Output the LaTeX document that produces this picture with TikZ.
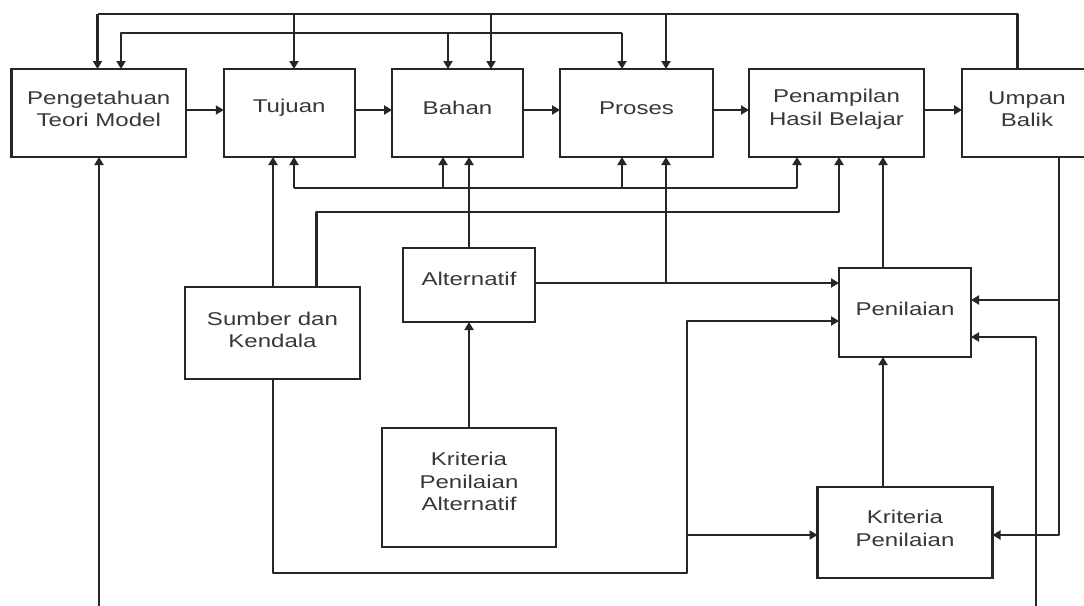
\documentclass[tikz,border=0pt]{standalone}
\usepackage{fontspec}
\usepackage{graphicx}
\setmainfont{Liberation Sans}
\usetikzlibrary{arrows.meta}
\definecolor{linec}{HTML}{262626}
\definecolor{textc}{HTML}{383838}
\newcommand{\wdtxt}[1]{\scalebox{1.3}[1]{#1}}
\begin{document}
\begin{tikzpicture}[x=1pt,y=-1pt,
  box/.style={draw=linec,line width=2.5pt,inner sep=0pt,outer sep=0pt},
  lbl/.style={align=center,text=textc,font=\fontsize{18.5}{22.5}\selectfont,inner sep=0pt},
  ln/.style={draw=linec,line width=2.5pt,line join=round},
  arr/.style={ln,-{Triangle[length=8pt,width=9pt]}}]
\useasboundingbox (0,0) rectangle (1084,605);
\clip (0,0) rectangle (1084,605);
\fill[white] (0,0) rectangle (1084,605);

% boxes
\node[box,minimum width=174.5pt,minimum height=88pt] (ptm) at (98.75,113) {};
\node[box,minimum width=131pt,minimum height=88pt] (tuj) at (289.25,113) {};
\node[box,minimum width=131pt,minimum height=88pt] (bah) at (457.5,113) {};
\node[box,minimum width=153pt,minimum height=88pt] (pro) at (636.5,113) {};
\node[box,minimum width=175pt,minimum height=88pt] (phb) at (836.5,113) {};
\node[box,minimum width=130pt,minimum height=88pt] (ump) at (1027,113) {};
\node[box,minimum width=132pt,minimum height=74pt] (alt) at (469,285) {};
\node[box,minimum width=175pt,minimum height=92pt] (sum) at (272.5,333) {};
\node[box,minimum width=174pt,minimum height=119pt] (kpa) at (469,487.5) {};
\node[box,minimum width=132pt,minimum height=89pt] (pen) at (905,312.5) {};
\node[box,minimum width=175pt,minimum height=91pt] (kp) at (905,532.5) {};

% labels
\node[lbl] (ptmt) at ([yshift=4pt]ptm.center) {\wdtxt{Pengetahuan}\\\wdtxt{Teori Model}};
\node[lbl] (tujt) at ([yshift=5pt]tuj.center) {\wdtxt{Tujuan}};
\node[lbl] (baht) at ([yshift=5pt]bah.center) {\wdtxt{Bahan}};
\node[lbl] (prot) at ([yshift=5pt]pro.center) {\wdtxt{Proses}};
\node[lbl] (phbt) at ([yshift=4pt]phb.center) {\wdtxt{Penampilan}\\\wdtxt{Hasil Belajar}};
\node[lbl] (umpt) at ([yshift=4pt]ump.center) {\wdtxt{Umpan}\\\wdtxt{Balik}};
\node[lbl] (altt) at ([yshift=6pt]alt.center) {\wdtxt{Alternatif}};
\node[lbl] (sumt) at ([yshift=3pt]sum.center) {\wdtxt{Sumber dan}\\\wdtxt{Kendala}};
\node[lbl] (kpat) at ([yshift=6pt]kpa.center) {\wdtxt{Kriteria}\\\wdtxt{Penilaian}\\\wdtxt{Alternatif}};
\node[lbl] (pent) at ([yshift=4pt]pen.center) {\wdtxt{Penilaian}};
\node[lbl] (kpt) at ([yshift=4pt]kp.center) {\wdtxt{Kriteria}\\\wdtxt{Penilaian}};

% main row arrows
\coordinate (hy) at (0,110);
\draw[arr] (ptm.east |- hy) -- (tuj.west |- hy);
\draw[arr] (tuj.east |- hy) -- (bah.west |- hy);
\draw[arr] (bah.east |- hy) -- (pro.west |- hy);
\draw[arr] (pro.east |- hy) -- (phb.west |- hy);
\draw[arr] (phb.east |- hy) -- (ump.west |- hy);

% top feedback line 1 (from Umpan Balik)
\draw[ln] (1017.5,0 |- ump.north) -- (1017.5,14) -- (97.5,14);
\draw[arr] (97.5,14) -- (97.5,0 |- ptm.north);
\draw[arr] (294,14) -- (294,0 |- tuj.north);
\draw[arr] (491,14) -- (491,0 |- bah.north);
\draw[arr] (666,14) -- (666,0 |- pro.north);

% top line 2
\draw[arr] (622,33) -- (121,33) -- (121,0 |- ptm.north);
\draw[arr] (448,33) -- (448,0 |- bah.north);
\draw[arr] (622,33) -- (622,0 |- pro.north);

% lower line at y=188
\draw[ln] (294,188) -- (797,188);
\draw[arr] (294,188) -- (294,0 |- tuj.south);
\draw[arr] (443,188) -- (443,0 |- bah.south);
\draw[arr] (622,188) -- (622,0 |- pro.south);
\draw[arr] (797,188) -- (797,0 |- phb.south);

% Sumber dan Kendala
\draw[arr] (273,0 |- sum.north) -- (273,0 |- tuj.south);
\draw[arr] (316.7,0 |- sum.north) -- (316.7,212) -- (839,212) -- (839,0 |- phb.south);
\draw[arr] (273,0 |- sum.south) -- (273,573) -- (687,573) -- (687,321) -- (pen.west |- 0,321);
\draw[arr] (687,535) -- (kp.west |- 0,535);

% Alternatif
\draw[arr] (alt.north) -- (alt.north |- bah.south);
\draw[arr] (alt.east |- 0,283) -- (pen.west |- 0,283);
\draw[arr] (666,283) -- (666,0 |- pro.south);
\draw[arr] (kpa.north) -- (alt.south);

% Penilaian
\draw[arr] (883,0 |- pen.north) -- (883,0 |- phb.south);
\draw[arr] (883,0 |- kp.north) -- (883,0 |- pen.south);

% Umpan Balik feedback
\draw[arr] (1059,0 |- ump.south) -- (1059,535) -- (kp.east |- 0,535);
\draw[arr] (1059,300) -- (pen.east |- 0,300);
\draw[arr] (1036,615) -- (1036,337) -- (pen.east |- 0,337);
\draw[arr] (99,615) -- (99,0 |- ptm.south);
\end{tikzpicture}
\end{document}
